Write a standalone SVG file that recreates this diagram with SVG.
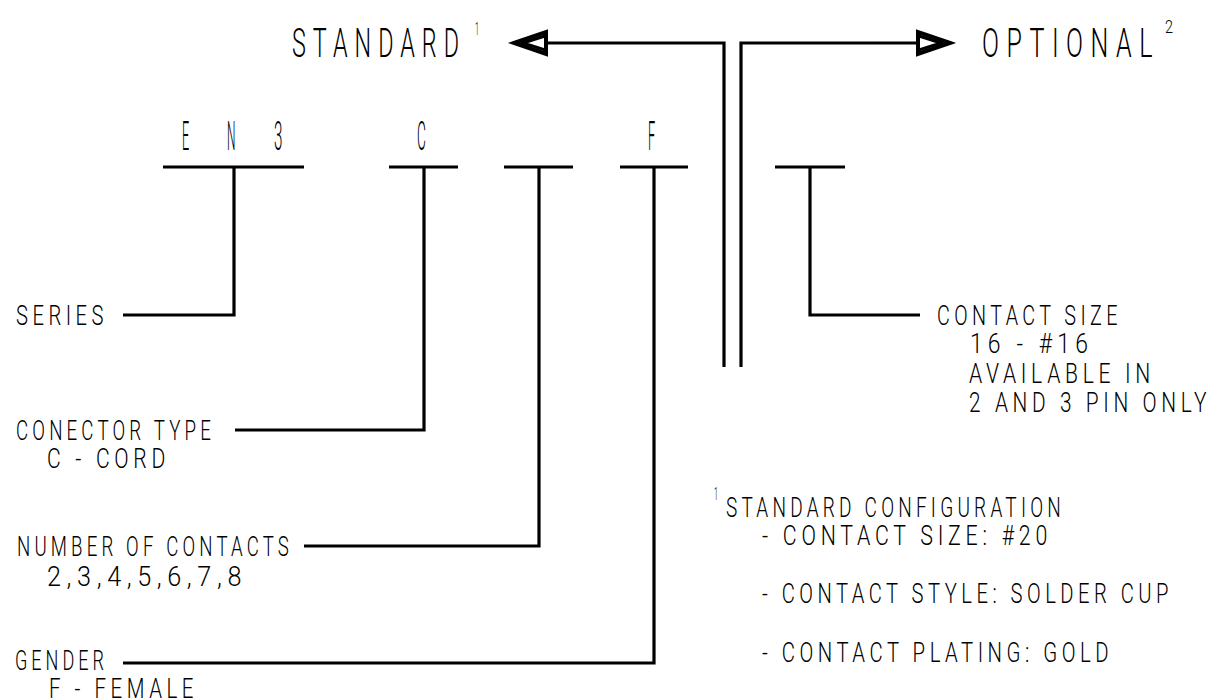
<svg xmlns="http://www.w3.org/2000/svg" width="1209" height="700" viewBox="0 0 1209 700">
<style>
  text { font-family: "Roboto", "Liberation Sans", "DejaVu Sans", sans-serif; font-weight: 300; fill: #000; }
  .big { font-size: 40px; letter-spacing: 12px; }
  .sm { font-size: 27px; letter-spacing: 6px; }
  .sup { font-size: 18px; }
  .ln { fill: none; stroke: #000; stroke-width: 3.2; stroke-linejoin: miter; stroke-linecap: butt; }
  .ah { fill: none; stroke: #000; stroke-width: 4; stroke-linejoin: miter; }
  .ahi { fill: none; stroke: #000; stroke-width: 3; }
</style>
<rect width="1209" height="700" fill="#fff"/>

<g id="connectors">
  <path class="ln" d="M547 43 H724 V367"/>
  <path class="ln" d="M917 43 H741 V367"/>
  <path class="ln" d="M234 167 V315 H123"/>
  <path class="ln" d="M424 167 V430 H235"/>
  <path class="ln" d="M539 167 V546 H304"/>
  <path class="ln" d="M654 167 V663 H123"/>
  <path class="ln" d="M810 167 V315 H920"/>
  <g id="arrow-left">
    <polygon class="ah" points="514,43 546,32 546,54"/>
    <polyline class="ahi" points="545,36 523,43 545,50"/>
  </g>
  <g id="arrow-right">
    <polygon class="ah" points="950,43 918,32 918,54"/>
    <polyline class="ahi" points="919,36 941,43 919,50"/>
  </g>
</g>

<g id="title-standard">
  <text class="big" x="292" y="57" textLength="174" lengthAdjust="spacingAndGlyphs">STANDARD</text>
  <text class="sup" x="475" y="35" textLength="4" lengthAdjust="spacingAndGlyphs">1</text>
</g>
<g id="title-optional">
  <text class="big" x="982" y="57" textLength="178" lengthAdjust="spacingAndGlyphs">OPTIONAL</text>
  <text class="sup" x="1165" y="33" textLength="8" lengthAdjust="spacingAndGlyphs">2</text>
</g>

<g id="seg-en3">
  <text class="big" x="182" y="150" textLength="11" lengthAdjust="spacingAndGlyphs">E</text>
  <text class="big" x="227" y="150" textLength="12" lengthAdjust="spacingAndGlyphs">N</text>
  <text class="big" x="274" y="150" textLength="13" lengthAdjust="spacingAndGlyphs">3</text>
  <path class="ln" d="M163 167 H304"/>
</g>
<g id="seg-c">
  <text class="big" x="417" y="150" textLength="13" lengthAdjust="spacingAndGlyphs">C</text>
  <path class="ln" d="M389 167 H458"/>
</g>
<g id="seg-contacts">
  <path class="ln" d="M504 167 H573"/>
</g>
<g id="seg-f">
  <text class="big" x="648" y="150" textLength="11" lengthAdjust="spacingAndGlyphs">F</text>
  <path class="ln" d="M620 167 H688"/>
</g>
<g id="seg-size">
  <path class="ln" d="M775 167 H845"/>
</g>

<g id="label-series">
  <text class="sm" x="16" y="325" textLength="92" lengthAdjust="spacingAndGlyphs">SERIES</text>
</g>
<g id="label-connector-type">
  <text class="sm" x="16" y="440" textLength="199" lengthAdjust="spacingAndGlyphs">CONECTOR TYPE</text>
  <text class="sm" x="47" y="468" textLength="123" lengthAdjust="spacingAndGlyphs">C - CORD</text>
</g>
<g id="label-contacts">
  <text class="sm" x="17" y="556" textLength="276" lengthAdjust="spacingAndGlyphs">NUMBER OF CONTACTS</text>
  <text class="sm" x="47" y="586" textLength="200" lengthAdjust="spacingAndGlyphs">2,3,4,5,6,7,8</text>
</g>
<g id="label-gender">
  <text class="sm" x="15" y="670" textLength="93" lengthAdjust="spacingAndGlyphs">GENDER</text>
  <text class="sm" x="49" y="698" textLength="149" lengthAdjust="spacingAndGlyphs">F - FEMALE</text>
</g>
<g id="label-contact-size">
  <text class="sm" x="937" y="325" textLength="185" lengthAdjust="spacingAndGlyphs">CONTACT SIZE</text>
  <text class="sm" x="970" y="353" textLength="123" lengthAdjust="spacingAndGlyphs">16 - #16</text>
  <text class="sm" x="969" y="383" textLength="186" lengthAdjust="spacingAndGlyphs">AVAILABLE IN</text>
  <text class="sm" x="969" y="412" textLength="242" lengthAdjust="spacingAndGlyphs">2 AND 3 PIN ONLY</text>
</g>
<g id="note-standard">
  <text class="sup" x="714" y="500" textLength="4" lengthAdjust="spacingAndGlyphs">1</text>
  <text class="sm" x="726" y="517" textLength="339" lengthAdjust="spacingAndGlyphs">STANDARD CONFIGURATION</text>
  <text class="sm" x="762" y="545" textLength="290" lengthAdjust="spacingAndGlyphs">- CONTACT SIZE: #20</text>
  <text class="sm" x="762" y="603" textLength="411" lengthAdjust="spacingAndGlyphs">- CONTACT STYLE: SOLDER CUP</text>
  <text class="sm" x="762" y="662" textLength="351" lengthAdjust="spacingAndGlyphs">- CONTACT PLATING: GOLD</text>
  <text class="sm" x="762" y="720" textLength="430" lengthAdjust="spacingAndGlyphs">- CONTACTS FACTORY INSTALLED</text>
</g>
</svg>
